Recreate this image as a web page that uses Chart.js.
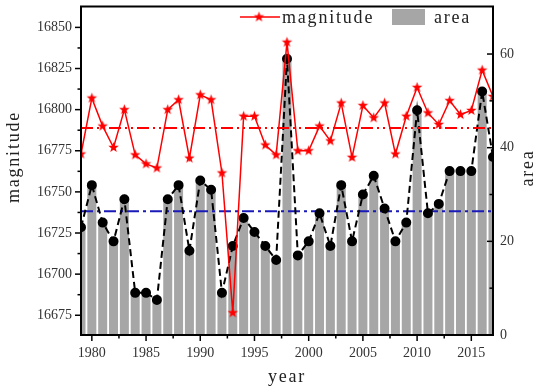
<!DOCTYPE html>
<html>
<head>
<meta charset="utf-8">
<script src="https://cdn.jsdelivr.net/npm/chart.js@4/dist/chart.umd.min.js"></script>
<style>
	body { margin: 0; background: #fff; }
</style>
</head>
<body>
<canvas id="myChart" width="540" height="389"></canvas>
<script>
var years = [1979, 1980, 1981, 1982, 1983, 1984, 1985, 1986, 1987, 1988,
	1989, 1990, 1991, 1992, 1993, 1994, 1995, 1996, 1997, 1998,
	1999, 2000, 2001, 2002, 2003, 2004, 2005, 2006, 2007, 2008,
	2009, 2010, 2011, 2012, 2013, 2014, 2015, 2016, 2017];
var magnitude = [16773, 16807, 16790, 16777, 16800, 16772.5, 16767, 16764.5, 16800, 16806,
	16770.5, 16809, 16806, 16761.5, 16676.5, 16796, 16796, 16778.5, 16772.5, 16841,
	16775, 16775, 16790, 16781, 16804, 16771, 16802.5, 16795, 16804, 16773,
	16796, 16813.5, 16798, 16791, 16805.5, 16797, 16799.5, 16824, 16808];
var area = [23, 32, 24, 20, 29, 9, 9, 7.5, 29, 32,
	18, 33, 31, 9, 19, 25, 22, 19, 16, 59,
	17, 20, 26, 19, 32, 20, 30, 34, 27, 20,
	24, 48, 26, 28, 35, 35, 35, 52, 38];

var serif = "'Liberation Serif', 'Times New Roman', serif";

function mean(a) {
	var s = 0;
	for (var i = 0; i < a.length; i++) s += a[i];
	return s / a.length;
}

function pairs(ys) {
	var out = [];
	for (var i = 0; i < years.length; i++) out.push({ x: years[i], y: ys[i] });
	return out;
}

function flat(v) {
	return [{ x: years[0], y: v }, { x: years[years.length - 1], y: v }];
}

// filled five point star used as point style
function makeStar(r, color) {
	var c = document.createElement('canvas');
	var s = Math.ceil(r * 2) + 2;
	c.width = s; c.height = s;
	var g = c.getContext('2d');
	g.beginPath();
	for (var i = 0; i < 10; i++) {
		var rad = i % 2 === 0 ? r : r * 0.42;
		var a = -Math.PI / 2 + i * Math.PI / 5;
		var px = s / 2 + rad * Math.cos(a), py = s / 2 + rad * Math.sin(a);
		if (i === 0) g.moveTo(px, py); else g.lineTo(px, py);
	}
	g.closePath();
	g.fillStyle = color;
	g.fill();
	return c;
}
var star = makeStar(5.5, '#ff0000');

function spaced(ctx, text, x, y, align) {
	ctx.font = '18px ' + serif;
	ctx.letterSpacing = '1.8px';
	ctx.fillStyle = '#222';
	ctx.textAlign = align;
	ctx.textBaseline = 'middle';
	ctx.fillText(text, x, y);
}

var decor = {
	id: 'decor',
	afterDraw: function(chart) {
		var ctx = chart.ctx, a = chart.chartArea;
		ctx.save();
		ctx.strokeStyle = '#000';
		ctx.lineWidth = 2;
		ctx.strokeRect(a.left, a.top, a.right - a.left, a.bottom - a.top);

		// tick marks
		ctx.lineWidth = 1.5;
		var sx = chart.scales.x, sy = chart.scales.y, sy1 = chart.scales.y1;
		sx.ticks.forEach(function(t) {
			var p = sx.getPixelForValue(t.value);
			var len = t.label !== '' ? 6 : 3.5;
			ctx.beginPath(); ctx.moveTo(p, a.bottom); ctx.lineTo(p, a.bottom + len); ctx.stroke();
		});
		sy.ticks.forEach(function(t) {
			var p = sy.getPixelForValue(t.value);
			if (p < a.top + 2) return;
			var len = t.label !== '' ? 6 : 3.5;
			ctx.beginPath(); ctx.moveTo(a.left - len, p); ctx.lineTo(a.left, p); ctx.stroke();
		});
		sy1.ticks.forEach(function(t) {
			var p = sy1.getPixelForValue(t.value);
			if (p < a.top + 2 || p > a.bottom - 1) return;
			var len = t.label !== '' ? 6 : 3.5;
			ctx.beginPath(); ctx.moveTo(a.right - len, p); ctx.lineTo(a.right, p); ctx.stroke();
		});

		// axis titles
		spaced(ctx, 'year', 287, 377, 'center');
		ctx.save();
		ctx.translate(14, 157);
		ctx.rotate(-Math.PI / 2);
		spaced(ctx, 'magnitude', 0, 0, 'center');
		ctx.restore();
		ctx.save();
		ctx.translate(528, 168);
		ctx.rotate(-Math.PI / 2);
		spaced(ctx, 'area', 0, 0, 'center');
		ctx.restore();

		// legend
		ctx.strokeStyle = '#ff0000';
		ctx.lineWidth = 1.5;
		ctx.beginPath(); ctx.moveTo(240, 17); ctx.lineTo(280, 17); ctx.stroke();
		ctx.drawImage(star, 259 - star.width / 2, 17 - star.height / 2);
		spaced(ctx, 'magnitude', 282, 18, 'left');
		ctx.fillStyle = '#a6a6a6';
		ctx.fillRect(392, 9, 33, 16);
		spaced(ctx, 'area', 434, 18, 'left');
		ctx.restore();
	}
};

var ctx = document.getElementById('myChart');

var myChart = new Chart(ctx, {
	type: 'bar',
	data: {
		datasets: [
			{
				type: 'line',
				label: 'magnitude',
				data: pairs(magnitude),
				yAxisID: 'y',
				borderColor: '#ff0000',
				borderWidth: 1.5,
				pointStyle: star,
				pointRadius: 5,
				lineTension: 0,
				fill: false,
				order: 1
			},
			{
				type: 'line',
				label: 'magnitude mean',
				data: flat(mean(magnitude)),
				yAxisID: 'y',
				borderColor: '#ff0000',
				borderWidth: 2,
				borderDash: [12, 4, 2, 4, 2, 4],
				pointRadius: 0,
				fill: false,
				order: 2
			},
			{
				type: 'line',
				label: 'area line',
				data: pairs(area),
				yAxisID: 'y1',
				borderColor: '#000',
				borderWidth: 2,
				borderDash: [7, 4],
				pointStyle: 'circle',
				pointRadius: 4,
				pointBackgroundColor: '#000',
				pointBorderColor: '#000',
				lineTension: 0,
				fill: false,
				order: 3
			},
			{
				type: 'line',
				label: 'area mean',
				data: flat(mean(area)),
				yAxisID: 'y1',
				borderColor: '#1a1ab8',
				borderWidth: 2,
				borderDash: [12, 4, 3, 4],
				pointRadius: 0,
				fill: false,
				order: 4
			},
			{
				label: 'area',
				data: pairs(area),
				yAxisID: 'y1',
				backgroundColor: '#a6a6a6',
				categoryPercentage: 1,
				barPercentage: 0.83,
				clip: 0,
				order: 5
			}
		]
	},
	options: {
		responsive: false,
		animation: false,
		devicePixelRatio: 1,
		layout: { padding: { top: 3 } },
		plugins: { legend: { display: false }, tooltip: { enabled: false } },
		scales: {
			x: {
				type: 'linear',
				offset: false,
				min: 1979,
				max: 2017,
				grid: { display: false, drawTicks: false },
				border: { display: false },
				ticks: {
					stepSize: 2.5,
					includeBounds: false,
					autoSkip: false,
					maxRotation: 0,
					minRotation: 0,
					padding: 10,
					color: '#333',
					font: { family: serif, size: 14 },
					callback: function(v) { return v % 5 === 0 ? String(v) : ''; }
				},
				afterFit: function(s) { s.height = 54; s.paddingLeft = 0; s.paddingRight = 0; }
			},
			y: {
				position: 'left',
				min: 16663,
				max: 16862.7,
				grid: { display: false, drawTicks: false },
				border: { display: false },
				ticks: {
					stepSize: 12.5,
					includeBounds: false,
					autoSkip: false,
					padding: 9,
					color: '#333',
					font: { family: serif, size: 14 },
					callback: function(v) { return (v - 16675) % 25 === 0 ? String(v) : ''; }
				},
				afterFit: function(s) { s.width = 81; s.paddingTop = 0; s.paddingBottom = 0; }
			},
			y1: {
				position: 'right',
				min: 0,
				max: 70.15,
				grid: { display: false, drawTicks: false },
				border: { display: false },
				ticks: {
					stepSize: 10,
					includeBounds: false,
					autoSkip: false,
					padding: 7,
					color: '#333',
					font: { family: serif, size: 14 },
					callback: function(v) { return v % 20 === 0 ? String(v) : ''; }
				},
				afterFit: function(s) { s.width = 47; s.paddingTop = 0; s.paddingBottom = 0; }
			}
		}
	},
	plugins: [decor]
});
</script>
</body>
</html>
